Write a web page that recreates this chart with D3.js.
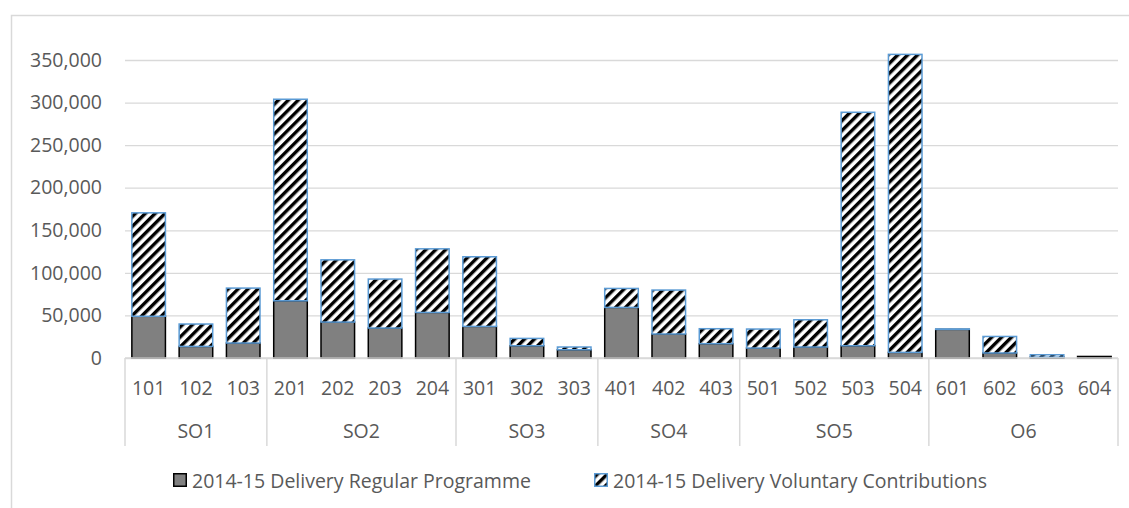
<!DOCTYPE html>
<html>
<head>
  <meta charset="utf-8">
  <title>2014-15 Delivery by Result</title>
  <script src="https://cdn.jsdelivr.net/npm/d3@7"></script>
  <style>
    body { margin: 0; background: #fff; }
    text { font-family: "Open Sans", Lato, sans-serif; fill: #595959; }
  </style>
</head>
<body>
  <div id="myChart"></div>
  <script>
    // Categories (results) and their groups
    const categories = ["101","102","103","201","202","203","204","301","302","303",
                        "401","402","403","501","502","503","504","601","602","603","604"];
    const groups = ["SO1","SO1","SO1","SO2","SO2","SO2","SO2","SO3","SO3","SO3",
                    "SO4","SO4","SO4","SO5","SO5","SO5","SO5","O6","O6","O6","O6"];

    // Series values
    const regular = [49000, 13600, 17600, 67200, 42200, 35200, 53500, 37100, 14400, 9700,
                     59400, 28200, 16800, 11700, 12900, 14400, 6600, 33600, 5900, 1000, 1800];
    const voluntary = [121500, 26300, 64500, 236700, 73100, 57500, 74700, 81800, 8600, 3200,
                       22300, 51600, 17600, 22300, 32000, 274200, 350000, 500, 19400, 2800, 0];

    const seriesNames = ["2014-15 Delivery Regular Programme", "2014-15 Delivery Voluntary Contributions"];
    const yTicks = [0, 50000, 100000, 150000, 200000, 250000, 300000, 350000];

    const width = 1129, height = 508;
    const margins = { top: 60, right: 11, bottom: 150, left: 125 };
    const y0 = height - margins.bottom;
    const fontSize = "19.5px";

    const svg = d3.select("#myChart").append("svg")
        .attr("width", width)
        .attr("height", height);

    // stripe pattern for voluntary contributions
    const defs = svg.append("defs");
    const pat = defs.append("pattern")
        .attr("id", "stripes")
        .attr("patternUnits", "userSpaceOnUse")
        .attr("width", 7)
        .attr("height", 7)
        .attr("patternTransform", "rotate(45)");
    pat.append("rect").attr("width", 7).attr("height", 7).attr("fill", "#fff");
    pat.append("rect").attr("width", 3.4).attr("height", 7).attr("fill", "#000");

    // outer chart border (partly off-page)
    svg.append("path")
        .attr("d", `M11.5,${height + 5}V15.5H${width + 5}`)
        .attr("fill", "none")
        .attr("stroke", "#d9d9d9")
        .attr("stroke-width", 1.5);

    // Scales
    const x = d3.scaleBand()
        .domain(categories)
        .range([margins.left, width - margins.right]);

    const y = d3.scaleLinear()
        .domain([0, 350000])
        .range([y0, margins.top]);

    // Gridlines + y labels
    const yAxis = svg.append("g")
        .attr("transform", `translate(${margins.left},0)`)
        .call(d3.axisLeft(y).tickValues(yTicks).tickFormat(d3.format(","))
          .tickSize(-(width - margins.right - margins.left)).tickPadding(23));
    yAxis.select(".domain").remove();
    yAxis.selectAll(".tick line").attr("stroke", "#d9d9d9").attr("stroke-width", 1.3);
    yAxis.selectAll(".tick text").style("font-size", fontSize).attr("fill", "#595959")
        .style("font-family", "'Open Sans', sans-serif");

    // Bars
    const barW = x.bandwidth() * 0.71;
    const off = (x.bandwidth() - barW) / 2;

    svg.append("g").selectAll("rect")
        .data(categories)
        .join("rect")
        .attr("x", (d) => x(d) + off)
        .attr("y", (d, i) => y(regular[i]))
        .attr("width", barW)
        .attr("height", (d, i) => y0 - y(regular[i]))
        .attr("fill", "#808080")
        .attr("stroke", "#000")
        .attr("stroke-width", 1.5);

    svg.append("g").selectAll("rect")
        .data(categories)
        .join("rect")
        .filter((d, i) => voluntary[i] > 0)
        .attr("x", (d) => x(d) + off)
        .attr("y", (d) => y(regular[categories.indexOf(d)] + voluntary[categories.indexOf(d)]))
        .attr("width", barW)
        .attr("height", (d) => { const i = categories.indexOf(d); return y(regular[i]) - y(regular[i] + voluntary[i]); })
        .attr("fill", "url(#stripes)")
        .attr("stroke", "#5b9bd5")
        .attr("stroke-width", 1.5);

    // Category axis
    svg.append("line")
        .attr("x1", margins.left).attr("x2", width - margins.right)
        .attr("y1", y0).attr("y2", y0)
        .attr("stroke", "#d9d9d9").attr("stroke-width", 1.5);

    svg.append("g").selectAll("text")
        .data(categories)
        .join("text")
        .attr("x", (d) => x(d) + x.bandwidth() / 2)
        .attr("y", y0 + 37)
        .attr("text-anchor", "middle")
        .style("font-size", fontSize)
        .text((d) => d);

    // group spans
    const groupNames = Array.from(new Set(groups));
    const spans = groupNames.map((g) => {
      const idx = categories.filter((c, i) => groups[i] === g);
      return { name: g, x1: x(idx[0]), x2: x(idx[idx.length - 1]) + x.bandwidth() };
    });
    const bounds = [spans[0].x1].concat(spans.map((s) => s.x2));

    svg.append("g").selectAll("line")
        .data(bounds)
        .join("line")
        .attr("x1", (d) => d).attr("x2", (d) => d)
        .attr("y1", y0).attr("y2", y0 + 88)
        .attr("stroke", "#d9d9d9").attr("stroke-width", 1.5);

    svg.append("g").selectAll("text")
        .data(spans)
        .join("text")
        .attr("x", (d) => (d.x1 + d.x2) / 2)
        .attr("y", y0 + 80)
        .attr("text-anchor", "middle")
        .style("font-size", fontSize)
        .text((d) => d.name);

    // Legend
    const legend = svg.append("g");
    const items = [
      { name: seriesNames[0], fill: "#808080", stroke: "#000", x: 173 },
      { name: seriesNames[1], fill: "url(#stripes)", stroke: "#5b9bd5", x: 594 }
    ];
    items.forEach((it) => {
      legend.append("rect")
          .attr("x", it.x + 0.75).attr("y", 473.75)
          .attr("width", 12.5).attr("height", 12.5)
          .attr("fill", it.fill).attr("stroke", it.stroke).attr("stroke-width", 1.5);
      legend.append("text")
          .attr("x", it.x + 19).attr("y", 487.5)
          .style("font-size", fontSize)
          .text(it.name);
    });
  </script>
</body>
</html>
